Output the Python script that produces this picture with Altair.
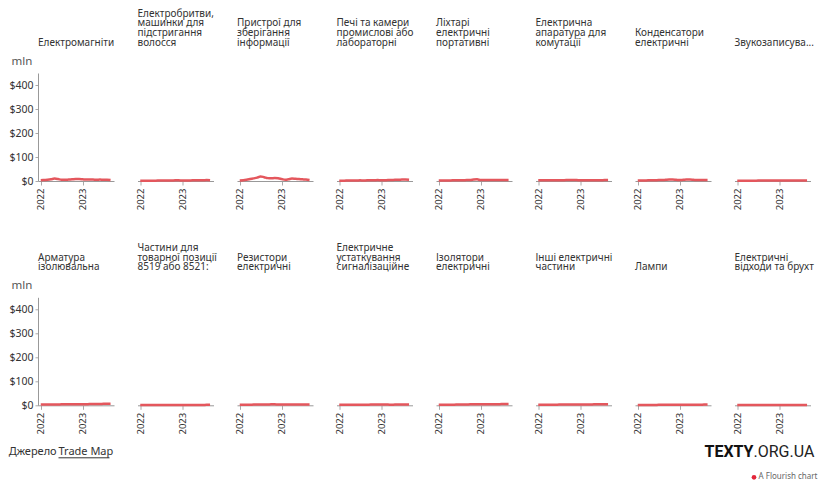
import altair as alt
import pandas as pd

months = pd.date_range("2022-01-01", "2023-09-01", freq="MS")

titles = [
    "Електромагніти",
    "Електробритви,\nмашинки для\nпідстригання\nволосся",
    "Пристрої для\nзберігання\nінформації",
    "Печі та камери\nпромислові або\nлабораторні",
    "Ліхтарі\nелектричні\nпортативні",
    "Електрична\nапаратура для\nкомутації",
    "Конденсатори\nелектричні",
    "Звукозаписува...",
    "Арматура\nізолювальна",
    "Частини для\nтоварної позиції\n8519 або 8521:",
    "Резистори\nелектричні",
    "Електричне\nустаткування\nсигналізаційне",
    "Ізолятори\nелектричні",
    "Інші електричні\nчастини",
    "Лампи",
    "Електричні\nвідходи та брухт",
]

s01 = [3, 4, 5, 7, 10, 8, 5, 5, 6, 7, 8, 8, 7, 6, 6, 6, 5, 6, 5, 5, 4]
s02 = [1, 1, 1, 1, 1, 2, 2, 2, 2, 2, 3, 3, 2, 2, 2, 3, 3, 3, 3, 4, 3]
s03 = [2, 3, 5, 8, 11, 14, 19, 16, 12, 11, 12, 11, 8, 5, 7, 10, 9, 8, 7, 6, 4]
s04 = [1, 1, 2, 2, 2, 2, 3, 2, 3, 3, 3, 4, 3, 3, 4, 4, 5, 5, 6, 6, 5]
s05 = [2, 2, 2, 2, 3, 3, 3, 3, 4, 4, 6, 7, 4, 4, 4, 4, 4, 4, 4, 4, 4]
s06 = [3, 3, 3, 3, 3, 3, 3, 3, 4, 4, 4, 4, 3, 3, 3, 3, 3, 3, 3, 4, 4]
s07 = [2, 2, 2, 3, 3, 3, 4, 4, 5, 6, 6, 5, 4, 5, 6, 6, 5, 4, 4, 4, 4]
s08 = [1, 1, 1, 1, 1, 1, 2, 2, 2, 2, 2, 2, 2, 2, 2, 2, 2, 2, 2, 2, 2]
s09 = [3, 3, 3, 3, 3, 3, 4, 4, 4, 4, 4, 4, 4, 4, 5, 5, 5, 5, 6, 6, 6]
s10 = [1, 1, 1, 1, 1, 1, 1, 1, 1, 1, 1, 1, 1, 1, 1, 1, 1, 1, 1, 2, 2]
s11 = [2, 2, 2, 2, 3, 3, 3, 3, 3, 4, 4, 3, 3, 3, 3, 3, 3, 3, 3, 3, 3]
s12 = [2, 2, 2, 2, 2, 2, 2, 2, 2, 3, 3, 3, 3, 3, 3, 2, 3, 3, 3, 3, 3]
s13 = [2, 2, 2, 2, 2, 3, 3, 3, 3, 4, 4, 4, 4, 4, 4, 4, 4, 4, 5, 5, 5]
s14 = [2, 2, 2, 2, 2, 2, 3, 3, 3, 3, 3, 3, 3, 3, 3, 3, 4, 4, 4, 4, 4]
s15 = [1, 1, 1, 1, 1, 1, 2, 2, 2, 2, 2, 2, 2, 2, 2, 2, 2, 2, 2, 3, 3]
s16 = [1, 1, 1, 1, 1, 1, 1, 1, 1, 1, 1, 1, 1, 1, 1, 1, 1, 1, 1, 1, 1]
series = [s01, s02, s03, s04, s05, s06, s07, s08,
          s09, s10, s11, s12, s13, s14, s15, s16]

y_ticks = [0, 100, 200, 300, 400]
source_label = "Джерело"
source_link = "Trade Map"
logo_bold = "TEXTY"
logo_rest = ".ORG.UA"
credit = "A Flourish chart"

FONT = "Noto Sans"
LINE = "#e4575d"
W, H = 76, 108
LH = 9.8

xdomain = [alt.DateTime(year=2021, month=12, date=8),
           alt.DateTime(year=2023, month=10, date=1)]
xticks = [alt.DateTime(year=2022, month=1, date=1),
          alt.DateTime(year=2023, month=1, date=1)]


def panel(i):
    col = i % 8
    df = pd.DataFrame({"date": months, "value": series[i]})
    xaxis = alt.Axis(values=xticks, format="%Y", labelAngle=270, labelAlign="right",
                     labelBaseline="middle", labelFontSize=9.5, labelColor="#333",
                     labelPadding=3, tickSize=4, tickColor="#aaa", domainColor="#999",
                     grid=False, title=None, labelFont=FONT)
    if col == 0:
        yaxis = alt.Axis(values=y_ticks, format="$.0f", labelFontSize=10.5, labelColor="#333",
                         labelPadding=2, tickSize=3, tickColor="#aaa", domainColor="#999",
                         grid=False, title="mln", titleAngle=0, titleAlign="left",
                         titleBaseline="alphabetic", titleX=-27, titleY=-9,
                         titleFontSize=11.5, titleFontWeight="normal", titleColor="#555",
                         labelFont=FONT, titleFont=FONT)
    else:
        yaxis = None
    line = alt.Chart(df).mark_line(color=LINE, strokeWidth=2.5, interpolate="monotone").encode(
        x=alt.X("date:T", scale=alt.Scale(domain=xdomain), axis=xaxis),
        y=alt.Y("value:Q", scale=alt.Scale(domain=[0, 450]), axis=yaxis),
    )
    n_lines = titles[i].count("\n") + 1
    tdf = pd.DataFrame({"t": [titles[i]]})
    title = alt.Chart(tdf).mark_text(
        align="left", baseline="alphabetic", lineBreak="\n", fontSize=10, lineHeight=LH,
        font=FONT, color="#333"
    ).encode(text="t:N", x=alt.value(0), y=alt.value(-27 - (n_lines - 1) * LH))
    layers = [line, title]
    if i == 8:
        sdf = pd.DataFrame({"a": [source_label], "b": [source_link]})
        layers.append(alt.Chart(sdf).mark_text(align="left", baseline="alphabetic", fontSize=11,
                                               font=FONT, color="#333")
                      .encode(text="a:N", x=alt.value(-29.3), y=alt.value(158)))
        layers.append(alt.Chart(sdf).mark_text(align="left", baseline="alphabetic", fontSize=11,
                                               font=FONT, color="#333")
                      .encode(text="b:N", x=alt.value(20.5), y=alt.value(158)))
        layers.append(alt.Chart(sdf).mark_rule(color="#333", strokeWidth=1)
                      .encode(x=alt.value(20.5), x2=alt.value(71.5), y=alt.value(160.5)))
    if i == 15:
        ldf = pd.DataFrame({"a": [logo_bold], "b": [logo_rest], "c": [credit]})
        layers.append(alt.Chart(ldf).mark_text(align="right", baseline="alphabetic", fontSize=16,
                                               fontWeight="bold", font="Roboto", color="#111")
                      .encode(text="a:N", x=alt.value(19), y=alt.value(160)))
        layers.append(alt.Chart(ldf).mark_text(align="left", baseline="alphabetic", fontSize=16,
                                               font="Roboto", color="#222")
                      .encode(text="b:N", x=alt.value(19), y=alt.value(160)))
        layers.append(alt.Chart(ldf).mark_text(align="right", baseline="middle", fontSize=8,
                                               font=FONT, color="#666")
                      .encode(text="c:N", x=alt.value(83), y=alt.value(180)))
        layers.append(alt.Chart(ldf).mark_point(filled=True, color="#e3263a", size=22, opacity=1)
                      .encode(x=alt.value(19.5), y=alt.value(180)))
    return alt.layer(*layers).properties(width=W, height=H)


charts = [panel(i) for i in range(16)]

chart = alt.concat(*charts, columns=8, bounds="flush",
                   spacing=alt.RowColnumber(column=23.5, row=116.3)).properties(
    padding=0
).configure_view(stroke=None)

chart.save("out.html", embed_options={"renderer": "svg", "actions": False})
